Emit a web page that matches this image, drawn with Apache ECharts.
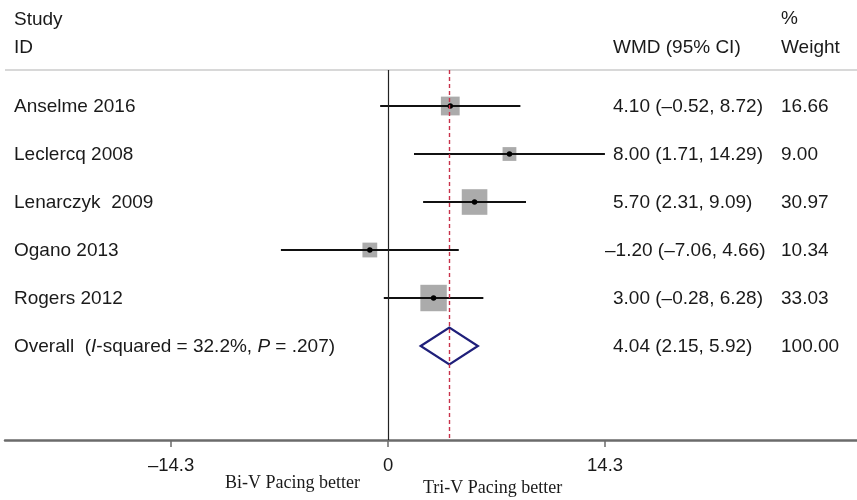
<!DOCTYPE html>
<html>
<head>
<meta charset="utf-8">
<script src="https://cdn.jsdelivr.net/npm/echarts@6/dist/echarts.min.js"></script>
<style>
html,body{margin:0;padding:0;background:#fff;}
#chart{width:857px;height:500px;}
</style>
</head>
<body>
<div id="chart"></div>
<script>
// ---- data ----
const studies = ['Anselme 2016', 'Leclercq 2008', 'Lenarczyk  2009', 'Ogano 2013', 'Rogers 2012'];
const wmd = [4.10, 8.00, 5.70, -1.20, 3.00];
const ciLow = [-0.52, 1.71, 2.31, -7.06, -0.28];
const ciHigh = [8.72, 14.29, 9.09, 4.66, 6.28];
const weights = [16.66, 9.00, 30.97, 10.34, 33.03];
const overallWmd = 4.04;
const overallLow = 2.15;
const overallHigh = 5.92;
const overallWeight = 100.00;
const iSquared = '32.2%';
const pValue = '.207';
const tickValues = [-14.3, 0, 14.3];
const tickLabels = ['\u201314.3', '0', '14.3'];
const axisNotes = ['Bi-V Pacing better', 'Tri-V Pacing better'];

// ---- helpers ----
const FONT = 'Arial, "Liberation Sans", Helvetica, sans-serif';
const TXT = '#1a1a1a';
function fmt(v) { return (v < 0 ? '\u2013' : '') + Math.abs(v).toFixed(2); }
function ciText(e, l, h) { return fmt(e) + ' (' + fmt(l) + ', ' + fmt(h) + ')'; }

const studyData = studies.map((s, i) => [wmd[i], ciLow[i], ciHigh[i], weights[i], i]);
const overallRow = studies.length;

const textRows = studies.map((s, i) => ({
  label: s, ci: ciText(wmd[i], ciLow[i], ciHigh[i]), w: weights[i].toFixed(2), neg: wmd[i] < 0, row: i, overall: false
}));
textRows.push({
  label: '', ci: ciText(overallWmd, overallLow, overallHigh), w: overallWeight.toFixed(2), neg: overallWmd < 0, row: overallRow, overall: true
});

const chart = echarts.init(document.getElementById('chart'), null, { renderer: 'canvas' });

const option = {
  animation: false,
  backgroundColor: '#fff',
  grid: { left: 5, right: 0, top: 70, bottom: 60 },
  xAxis: {
    type: 'value',
    min: -25.24,
    max: 30.9,
    splitLine: { show: false },
    axisLine: { show: true, onZero: false, lineStyle: { color: '#6b6b6b', width: 2.5 } },
    axisTick: { show: true, customValues: tickValues, length: 7, lineStyle: { color: '#6b6b6b', width: 1.5 } },
    axisLabel: {
      show: true, customValues: tickValues, margin: 16,
      fontFamily: FONT, fontSize: 18.5, color: TXT,
      formatter: function (v) { const k = tickValues.indexOf(v); return k >= 0 ? tickLabels[k] : ''; }
    }
  },
  yAxis: {
    type: 'value', inverse: true, min: -0.75, max: 6.958, show: false
  },
  graphic: [
    { type: 'text', left: 14, top: 10, style: { text: 'Study', font: '19px ' + FONT, fill: TXT } },
    { type: 'text', left: 14, top: 38, style: { text: 'ID', font: '19px ' + FONT, fill: TXT } },
    { type: 'text', left: 781, top: 9, style: { text: '%', font: '19px ' + FONT, fill: TXT } },
    { type: 'text', left: 613, top: 38, style: { text: 'WMD (95% CI)', font: '19px ' + FONT, fill: TXT } },
    { type: 'text', left: 781, top: 38, style: { text: 'Weight', font: '19px ' + FONT, fill: TXT } },
    { type: 'text', left: 225, top: 474, style: { text: axisNotes[0], font: '18px "Liberation Serif", "Times New Roman", serif', fill: TXT } },
    { type: 'text', left: 423, top: 479, style: { text: axisNotes[1], font: '18px "Liberation Serif", "Times New Roman", serif', fill: TXT } }
  ],
  series: [
    {
      type: 'custom',
      name: 'refs',
      data: [],
      silent: true,
      markLine: {
        symbol: 'none', silent: true, label: { show: false },
        data: [
          { yAxis: -0.75, lineStyle: { color: '#d8d8d8', width: 2, type: 'solid' } },
          { xAxis: 0, lineStyle: { color: '#222', width: 1.2, type: 'solid' } },
          { xAxis: overallWmd, lineStyle: { color: '#c8324a', width: 1.4, type: [4, 3] } }
        ]
      },
      renderItem: function () { return null; }
    },
    {
      type: 'custom',
      name: 'studies',
      data: studyData,
      encode: { x: 0, y: 4 },
      renderItem: function (params, api) {
        const est = api.value(0), lo = api.value(1), hi = api.value(2), w = api.value(3), row = api.value(4);
        const c = api.coord([est, row]);
        const l = api.coord([lo, row]);
        const h = api.coord([hi, row]);
        const s = 4.6 * Math.sqrt(w);
        return {
          type: 'group',
          children: [
            { type: 'rect', shape: { x: c[0] - s / 2, y: c[1] - s / 2, width: s, height: s }, style: { fill: '#ababab' } },
            { type: 'line', shape: { x1: l[0], y1: l[1], x2: h[0], y2: h[1] }, style: { stroke: '#111', lineWidth: 2.2 } },
            { type: 'circle', shape: { cx: c[0], cy: c[1], r: 2.7 }, style: { fill: '#000' } }
          ]
        };
      }
    },
    {
      type: 'custom',
      name: 'overall',
      data: [[overallWmd, overallLow, overallHigh, overallRow]],
      encode: { x: 0, y: 3 },
      renderItem: function (params, api) {
        const c = api.coord([api.value(0), api.value(3)]);
        const l = api.coord([api.value(1), api.value(3)]);
        const h = api.coord([api.value(2), api.value(3)]);
        const hh = 18.5;
        return {
          type: 'polygon',
          shape: { points: [[l[0], c[1]], [c[0], c[1] - hh], [h[0], c[1]], [c[0], c[1] + hh]] },
          style: { fill: 'none', stroke: '#1f1f7a', lineWidth: 2.2 }
        };
      }
    },
    {
      type: 'custom',
      name: 'texts',
      data: textRows.map(r => [0, r.row]),
      encode: { x: 0, y: 1 },
      renderItem: function (params, api) {
        const r = textRows[params.dataIndex];
        const y = api.coord([0, r.row])[1];
        const font = '19px ' + FONT;
        const children = [];
        if (r.overall) {
          children.push({
            type: 'text', x: 14, y: y + 1,
            style: {
              text: 'Overall  ({i|I}-squared = ' + iSquared + ', {i|P} = ' + pValue + ')',
              font: font, fill: TXT, verticalAlign: 'middle',
              rich: { i: { fontStyle: 'italic', fontSize: 19, fontFamily: FONT, fill: TXT } }
            }
          });
        } else {
          children.push({ type: 'text', x: 14, y: y + 1, style: { text: r.label, font: font, fill: TXT, verticalAlign: 'middle' } });
        }
        children.push({ type: 'text', x: r.neg ? 605 : 613, y: y + 1, style: { text: r.ci, font: font, fill: TXT, verticalAlign: 'middle' } });
        children.push({ type: 'text', x: 781, y: y + 1, style: { text: r.w, font: font, fill: TXT, verticalAlign: 'middle' } });
        return { type: 'group', children: children };
      }
    }
  ]
};
chart.setOption(option);
</script>
</body>
</html>
